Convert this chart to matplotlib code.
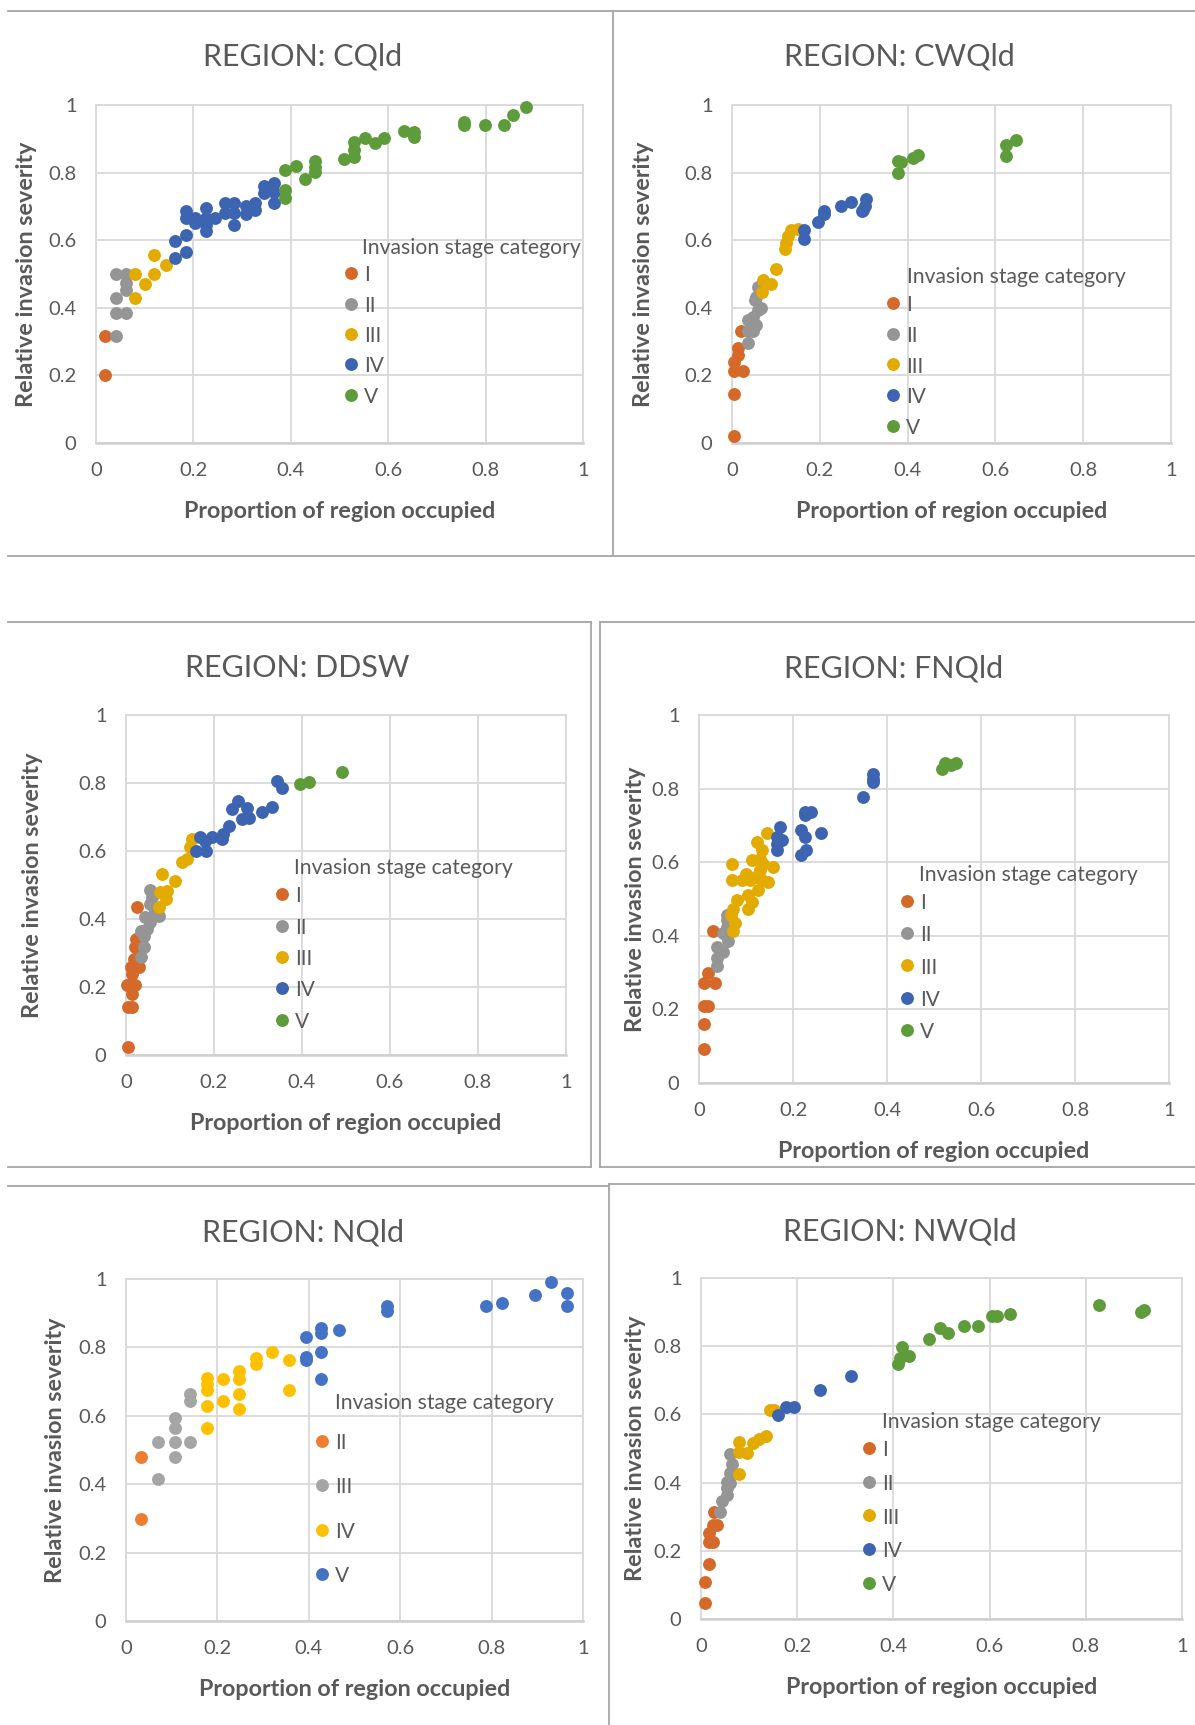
import matplotlib
matplotlib.use("Agg")
import matplotlib.pyplot as plt
from matplotlib.lines import Line2D

plt.rcParams['font.family'] = ['Lato', 'DejaVu Sans']

W, H = 1195, 1725

# ---- data (proportion occupied, relative severity) ----
# CQld
cq_x = {
    'I':   [0.018, 0.018],
    'II':  [0.042, 0.062, 0.062, 0.062, 0.042, 0.042, 0.062, 0.042],
    'III': [0.081, 0.081, 0.100, 0.120, 0.120, 0.144],
    'IV':  [0.163, 0.184, 0.163, 0.184, 0.184, 0.184, 0.203, 0.203, 0.225, 0.225, 0.225, 0.225, 0.245, 0.264,
            0.264, 0.283, 0.283, 0.283, 0.307, 0.307, 0.327, 0.327, 0.345, 0.345, 0.365, 0.365, 0.365],
    'V':   [0.389, 0.389, 0.389, 0.410, 0.429, 0.449, 0.449, 0.449, 0.509, 0.529, 0.529, 0.529, 0.552, 0.572,
            0.592, 0.632, 0.654, 0.654, 0.755, 0.755, 0.798, 0.838, 0.857, 0.882],
}
cq_y = {
    'I':   [0.318, 0.200],
    'II':  [0.500, 0.500, 0.473, 0.453, 0.430, 0.386, 0.386, 0.318],
    'III': [0.500, 0.430, 0.471, 0.555, 0.500, 0.527],
    'IV':  [0.547, 0.565, 0.599, 0.616, 0.685, 0.667, 0.665, 0.650, 0.695, 0.665, 0.645, 0.626, 0.665, 0.711,
            0.680, 0.711, 0.680, 0.645, 0.700, 0.678, 0.711, 0.690, 0.759, 0.739, 0.770, 0.744, 0.711],
    'V':   [0.808, 0.749, 0.724, 0.820, 0.780, 0.834, 0.818, 0.803, 0.840, 0.890, 0.867, 0.847, 0.903, 0.887,
            0.903, 0.924, 0.921, 0.906, 0.951, 0.941, 0.941, 0.941, 0.970, 0.993],
}

# CWQld
cw_x = {
    'I':   [0.005, 0.005, 0.005, 0.024, 0.005, 0.014, 0.014, 0.021],
    'II':  [0.036, 0.036, 0.048, 0.036, 0.048, 0.055, 0.048, 0.059, 0.067, 0.055, 0.063, 0.052, 0.059],
    'III': [0.069, 0.071, 0.088, 0.100, 0.120, 0.122, 0.128, 0.135, 0.150],
    'IV':  [0.163, 0.163, 0.196, 0.210, 0.210, 0.249, 0.271, 0.295, 0.299, 0.305, 0.302],
    'V':   [0.378, 0.378, 0.386, 0.413, 0.424, 0.624, 0.624, 0.647],
}
cw_y = {
    'I':   [0.022, 0.145, 0.212, 0.212, 0.241, 0.261, 0.281, 0.330],
    'II':  [0.296, 0.330, 0.330, 0.365, 0.355, 0.350, 0.374, 0.394, 0.399, 0.433, 0.448, 0.424, 0.463],
    'III': [0.448, 0.483, 0.471, 0.514, 0.573, 0.591, 0.611, 0.631, 0.632],
    'IV':  [0.603, 0.629, 0.655, 0.678, 0.685, 0.700, 0.714, 0.685, 0.690, 0.722, 0.700],
    'V':   [0.800, 0.834, 0.830, 0.842, 0.852, 0.850, 0.882, 0.895],
}

# DDSW
dd_x = {
    'I':   [0.004, 0.004, 0.014, 0.014, 0.002, 0.021, 0.014, 0.029, 0.011, 0.019, 0.021, 0.023, 0.025],
    'II':  [0.034, 0.042, 0.040, 0.033, 0.048, 0.055, 0.044, 0.063, 0.074, 0.055, 0.059, 0.055],
    'III': [0.074, 0.090, 0.078, 0.093, 0.082, 0.112, 0.127, 0.139, 0.145, 0.150],
    'IV':  [0.160, 0.182, 0.169, 0.180, 0.195, 0.218, 0.220, 0.233, 0.241, 0.254, 0.263, 0.276, 0.279, 0.309,
            0.332, 0.343, 0.355],
    'V':   [0.396, 0.415, 0.492],
}
dd_y = {
    'I':   [0.023, 0.140, 0.140, 0.180, 0.207, 0.207, 0.238, 0.258, 0.258, 0.282, 0.317, 0.341, 0.434],
    'II':  [0.289, 0.317, 0.351, 0.366, 0.371, 0.390, 0.405, 0.415, 0.410, 0.444, 0.464, 0.486],
    'III': [0.434, 0.459, 0.478, 0.483, 0.532, 0.513, 0.567, 0.576, 0.611, 0.635],
    'IV':  [0.601, 0.601, 0.640, 0.630, 0.640, 0.635, 0.650, 0.675, 0.724, 0.748, 0.694, 0.726, 0.697, 0.714,
            0.730, 0.805, 0.785],
    'V':   [0.797, 0.804, 0.831],
}

# FNQld
fn_x = {
    'I':   [0.011, 0.011, 0.011, 0.020, 0.011, 0.020, 0.033, 0.030],
    'II':  [0.039, 0.039, 0.052, 0.039, 0.062, 0.050, 0.059, 0.059, 0.059],
    'III': [0.073, 0.076, 0.069, 0.073, 0.080, 0.105, 0.112, 0.105, 0.126, 0.071, 0.071, 0.091, 0.101, 0.112,
            0.108, 0.119, 0.130, 0.133, 0.147, 0.157, 0.124, 0.133, 0.130, 0.145, 0.137],
    'IV':  [0.172, 0.165, 0.165, 0.165, 0.176, 0.218, 0.225, 0.218, 0.228, 0.259, 0.225, 0.225, 0.239, 0.349,
            0.371, 0.371, 0.371],
    'V':   [0.516, 0.523, 0.537, 0.546],
}
fn_y = {
    'I':   [0.092, 0.161, 0.208, 0.208, 0.271, 0.298, 0.271, 0.414],
    'II':  [0.319, 0.341, 0.357, 0.369, 0.387, 0.407, 0.423, 0.443, 0.456],
    'III': [0.414, 0.435, 0.456, 0.474, 0.497, 0.474, 0.492, 0.510, 0.524, 0.551, 0.594, 0.551, 0.569, 0.605,
            0.551, 0.560, 0.578, 0.551, 0.547, 0.587, 0.655, 0.632, 0.610, 0.679, 0.596],
    'IV':  [0.696, 0.668, 0.650, 0.634, 0.659, 0.687, 0.668, 0.619, 0.632, 0.679, 0.736, 0.727, 0.736, 0.777,
            0.840, 0.827, 0.818],
    'V':   [0.854, 0.870, 0.865, 0.870],
}

# NQld (only four stage categories present)
nq_x = {
    'II':  [0.033, 0.033],
    'III': [0.071, 0.071, 0.108, 0.108, 0.108, 0.108, 0.141, 0.141, 0.141],
    'IV':  [0.177, 0.177, 0.177, 0.177, 0.177, 0.212, 0.212, 0.248, 0.248, 0.248, 0.248, 0.285, 0.285, 0.319,
            0.357, 0.357],
    'V':   [0.394, 0.394, 0.394, 0.427, 0.427, 0.427, 0.427, 0.465, 0.572, 0.572, 0.787, 0.822, 0.896, 0.929,
            0.966, 0.966],
}
nq_y = {
    'II':  [0.480, 0.297],
    'III': [0.414, 0.524, 0.480, 0.524, 0.563, 0.593, 0.524, 0.642, 0.664],
    'IV':  [0.563, 0.630, 0.674, 0.693, 0.710, 0.642, 0.708, 0.619, 0.664, 0.708, 0.732, 0.752, 0.769, 0.786,
            0.764, 0.676],
    'V':   [0.830, 0.764, 0.773, 0.708, 0.786, 0.842, 0.856, 0.852, 0.920, 0.905, 0.920, 0.930, 0.954, 0.991,
            0.959, 0.920],
}

# NWQld
nw_x = {
    'I':   [0.008, 0.008, 0.016, 0.016, 0.024, 0.016, 0.024, 0.033, 0.026],
    'II':  [0.039, 0.044, 0.054, 0.054, 0.061, 0.054, 0.061, 0.064, 0.061],
    'III': [0.078, 0.078, 0.078, 0.095, 0.109, 0.120, 0.136, 0.144, 0.151],
    'IV':  [0.161, 0.177, 0.194, 0.248, 0.311],
    'V':   [0.409, 0.414, 0.417, 0.433, 0.473, 0.497, 0.513, 0.547, 0.575, 0.604, 0.615, 0.642, 0.827, 0.914,
            0.921],
}
nw_y = {
    'I':   [0.048, 0.109, 0.160, 0.225, 0.225, 0.253, 0.275, 0.275, 0.314],
    'II':  [0.314, 0.347, 0.363, 0.383, 0.399, 0.402, 0.427, 0.454, 0.485],
    'III': [0.425, 0.490, 0.520, 0.487, 0.517, 0.529, 0.536, 0.614, 0.614],
    'IV':  [0.598, 0.622, 0.622, 0.671, 0.713],
    'V':   [0.747, 0.764, 0.798, 0.771, 0.820, 0.854, 0.839, 0.859, 0.859, 0.888, 0.888, 0.893, 0.920, 0.900,
            0.907],
}

stages = ['I', 'II', 'III', 'IV', 'V']
stages_nq = ['II', 'III', 'IV', 'V']
colors = {'I': '#D4692A', 'II': '#959595', 'III': '#E3AA00', 'IV': '#3C64B1', 'V': '#5E9B3A'}
colors_nq = {'II': '#ED7D31', 'III': '#A5A5A5', 'IV': '#FFC000', 'V': '#4472C4'}

TXT = '#595959'
GRID = '#D9D9D9'


def fx(px):
    return px / W


def fy(py):
    return 1 - py / H


fig = plt.figure(figsize=(W / 100, H / 100), dpi=100)

# panel layout in pixels: axes box, title centre, x label y, y label x, legend
panels = [
    dict(name='CQld', xs=cq_x, ys=cq_y, st=stages, col=colors,
         box=(96, 105, 583, 443), title=(303, 53), xl=512, yl=27,
         leg_title=(362, 248), leg_x=345, leg_y=(278, 394), lsp=0.50),
    dict(name='CWQld', xs=cw_x, ys=cw_y, st=stages, col=colors,
         box=(732, 105, 1171, 443), title=(899, 53), xl=512, yl=644,
         leg_title=(907, 277), leg_x=887, leg_y=(308, 425), lsp=0.52),
    dict(name='DDSW', xs=dd_x, ys=dd_y, st=stages, col=colors,
         box=(126, 715, 566, 1055), title=(297, 665), xl=1123, yl=33,
         leg_title=(294, 868), leg_x=276, leg_y=(899, 1019), lsp=0.55),
    dict(name='FNQld', xs=fn_x, ys=fn_y, st=stages, col=colors,
         box=(699, 715, 1169, 1083), title=(894, 665), xl=1151, yl=635,
         leg_title=(919, 875), leg_x=901, leg_y=(906, 1029), lsp=0.59),
    dict(name='NQld', xs=nq_x, ys=nq_y, st=stages_nq, col=colors_nq,
         box=(126, 1279, 583, 1621), title=(303, 1229), xl=1689, yl=55,
         leg_title=(335, 1403), leg_x=316, leg_y=(1445, 1574), lsp=1.18),
    dict(name='NWQld', xs=nw_x, ys=nw_y, st=stages, col=colors,
         box=(701, 1278, 1182, 1619), title=(900, 1228), xl=1688, yl=635,
         leg_title=(882, 1422), leg_x=863, leg_y=(1453, 1582), lsp=0.66),
]

for p in panels:
    l, t, r, b = p['box']
    ax = fig.add_axes([fx(l), fy(b), (r - l) / W, (b - t) / H])
    for s in p['st']:
        ax.scatter(p['xs'][s], p['ys'][s], s=86, color=p['col'][s], linewidths=0,
                   label=s, zorder=3, clip_on=False)
    ax.set_xlim(0, 1)
    ax.set_ylim(0, 1)
    ticks = [0, 0.2, 0.4, 0.6, 0.8, 1]
    labels = ['0', '0.2', '0.4', '0.6', '0.8', '1']
    ax.set_xticks(ticks, labels)
    ax.set_yticks(ticks, labels)
    ax.grid(True, color=GRID, lw=1.3, zorder=0)
    ax.set_axisbelow(True)
    for sp in ax.spines.values():
        sp.set_color(GRID)
        sp.set_linewidth(1.3)
    ax.spines['bottom'].set_color('#CFCFCF')
    ax.spines['bottom'].set_linewidth(1.8)
    ax.tick_params(length=0, labelsize=14.5, labelcolor=TXT, pad=14)

    fig.text(fx(p['title'][0]), fy(p['title'][1]) - 0.002, 'REGION: ' + p['name'],
             ha='center', va='center', fontsize=22, color=TXT)
    fig.text(fx((l + r) / 2), fy(p['xl']), 'Proportion of region occupied',
             ha='center', va='center', fontsize=16.8, fontweight='bold', color=TXT)
    fig.text(fx(p['yl']), fy((t + b) / 2), 'Relative invasion severity',
             ha='center', va='center', rotation=90, fontsize=16.8, fontweight='bold', color=TXT)

    # legend: title drawn as text, entries via legend
    fig.text(fx(p['leg_title'][0]), fy(p['leg_title'][1]), 'Invasion stage category',
             ha='left', va='center', fontsize=15.2, color=TXT)
    y0, y1 = p['leg_y']
    leg = ax.legend(loc='center left', bbox_to_anchor=(fx(p['leg_x']), fy((y0 + y1) / 2)),
                    bbox_transform=fig.transFigure, frameon=False, fontsize=15,
                    handlelength=0.6, handletextpad=0.3, labelspacing=p['lsp'],
                    borderpad=0, borderaxespad=0, markerscale=1.0,
                    scatterpoints=1, scatteryoffsets=[0.55])
    for txt in leg.get_texts():
        txt.set_color(TXT)

# panel frames
FRAME = '#A6A6A6'
segments = [
    ((8, 11), (1195, 11)),
    ((613, 11), (613, 556)),
    ((8, 556), (1195, 556)),
    ((8, 622), (591, 622)), ((591, 622), (591, 1167)), ((8, 1167), (591, 1167)),
    ((600, 622), (1195, 622)), ((600, 622), (600, 1167)), ((600, 1167), (1195, 1167)),
    ((8, 1186), (609, 1186)),
    ((609, 1184), (1195, 1184)), ((609, 1184), (609, 1725)),
]
for (xa, ya), (xb, yb) in segments:
    fig.add_artist(Line2D([fx(xa), fx(xb)], [fy(ya), fy(yb)], color=FRAME, lw=1.3,
                          transform=fig.transFigure))

fig.savefig('out.png', dpi=100)
